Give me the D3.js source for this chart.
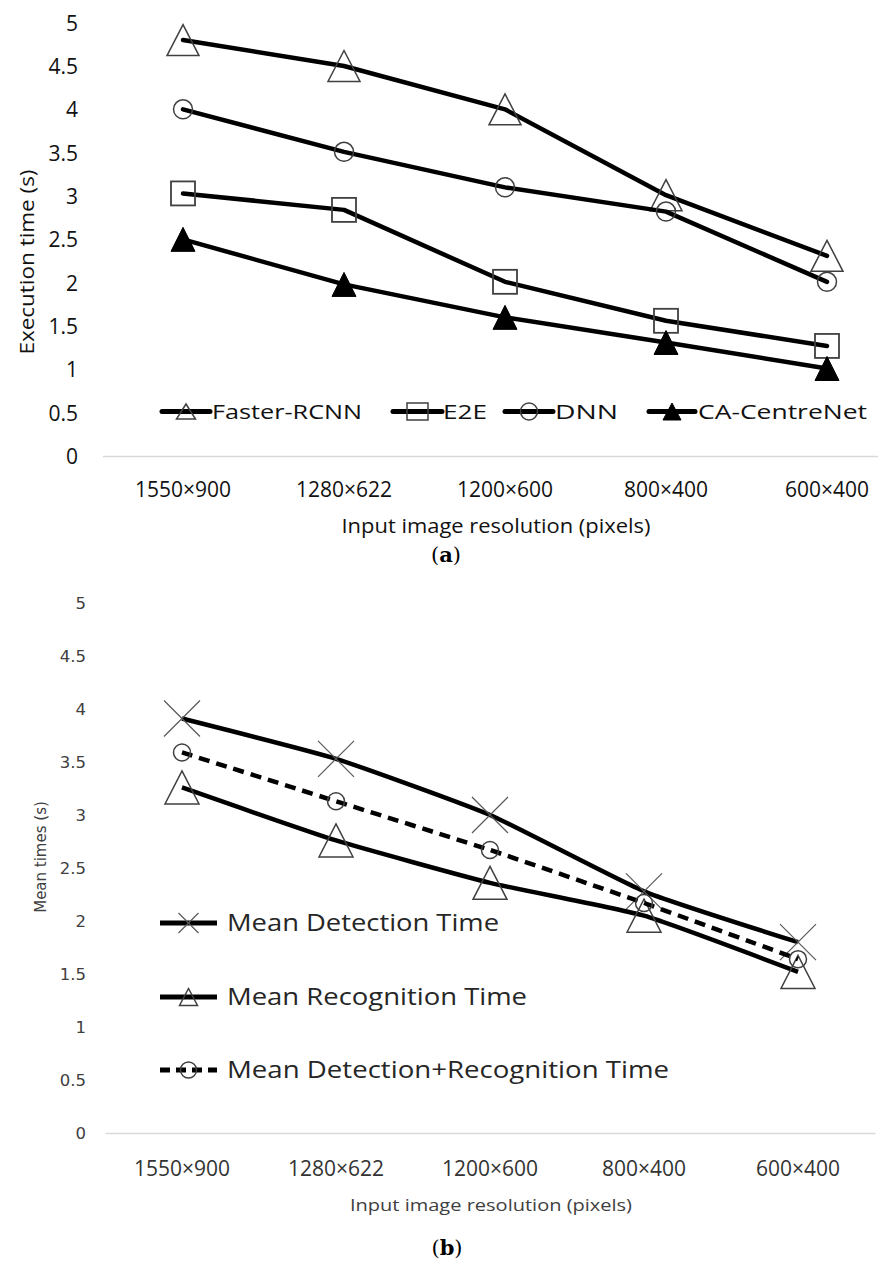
<!DOCTYPE html>
<html><head><meta charset="utf-8">
<script src="https://cdn.jsdelivr.net/npm/d3@7"></script>
<style>body{margin:0;background:#fff}</style>
</head><body>
<script>
// ---------- DATA ----------
const categories = ["1550×900","1280×622","1200×600","800×400","600×400"];
const yTickValues = [0,0.5,1,1.5,2,2.5,3,3.5,4,4.5,5];
// chart (a)
const fasterRCNN = [4.8,4.5,4.0,3.01,2.31];
const e2e = [3.03,2.84,2.01,1.56,1.27];
const dnn = [4.0,3.51,3.1,2.82,2.01];
const caCentreNet = [2.5,1.98,1.6,1.31,1.01];
// chart (b)
const meanDetection = [3.91,3.53,3.0,2.28,1.8];
const meanRecognition = [3.26,2.76,2.36,2.05,1.52];
const meanDetRec = [3.59,3.13,2.67,2.17,1.64];

const svg = d3.select("body").append("svg").attr("width",878).attr("height",1264)
  .style("background","#fff");

function fit(sel,w){ sel.attr("textLength",w).attr("lengthAdjust","spacingAndGlyphs"); return sel; }

function marker(g,type,x,y,s){
  if(type==="tri"||type==="triFill"){
    g.append("path").attr("d",`M${x},${y-s.h/2}L${x+s.w/2},${y+s.h/2}L${x-s.w/2},${y+s.h/2}Z`)
      .attr("fill",type==="triFill"?"#000":"none").attr("stroke",type==="triFill"?"#000":"#404040")
      .attr("stroke-width",s.sw).attr("stroke-linejoin","miter");
  } else if(type==="square"){
    g.append("rect").attr("x",x-s.w/2).attr("y",y-s.h/2).attr("width",s.w).attr("height",s.h)
      .attr("fill","none").attr("stroke","#404040").attr("stroke-width",s.sw);
  } else if(type==="circle"){
    g.append("circle").attr("cx",x).attr("cy",y).attr("r",s.w/2)
      .attr("fill","none").attr("stroke","#404040").attr("stroke-width",s.sw);
  } else if(type==="cross"){
    g.append("path").attr("d",`M${x-s.w/2},${y-s.h/2}L${x+s.w/2},${y+s.h/2}M${x+s.w/2},${y-s.h/2}L${x-s.w/2},${y+s.h/2}`)
      .attr("stroke","#595959").attr("stroke-width",s.sw).attr("fill","none");
  }
}

function figLabel(g,x,y,letter){
  const lab = g.append("text").attr("x",x).attr("y",y).attr("dy","0.35em").attr("text-anchor","middle")
    .style("font-family","'DejaVu Serif','Liberation Serif'").style("font-size","21px").attr("fill","#000");
  lab.append("tspan").text("(");
  lab.append("tspan").attr("font-weight","bold").text(letter);
  lab.append("tspan").text(")");
}

// ================= CHART (a) =================
{
  const x = d3.scaleBand().domain(categories).range([102.5,907.5]).paddingInner(0).paddingOuter(0);
  const y = d3.scaleLinear().domain([0,5]).range([456,22.7]);
  const cx = d => x(d)+x.bandwidth()/2;
  const g = svg.append("g");

  const xAxis = g.append("g").attr("transform","translate(0,456)")
    .call(d3.axisBottom(x).tickSize(0).tickSizeOuter(0));
  xAxis.select(".domain").attr("stroke","#d9d9d9").attr("stroke-width",1.5);
  xAxis.selectAll("text").attr("y",34).attr("dy","0.35em")
    .style("font-family","'Open Sans'").style("font-size","21px").attr("fill","#111");

  const yAxis = g.append("g").attr("transform","translate(78,0)")
    .call(d3.axisLeft(y).tickValues(yTickValues).tickSize(0).tickPadding(0).tickFormat(d3.format("")));
  yAxis.select(".domain").remove();
  yAxis.selectAll("text").attr("x",0).attr("dy","0.35em")
    .style("font-family","'Open Sans'").style("font-size","21px").attr("fill","#111");

  fit(g.append("text").attr("transform","translate(34,262) rotate(-90)").attr("text-anchor","middle")
    .style("font-family","'Open Sans'").style("font-size","20px").attr("fill","#111")
    .text("Execution time (s)"),185);
  fit(g.append("text").attr("x",496).attr("y",526).attr("dy","0.35em").attr("text-anchor","middle")
    .style("font-family","'Open Sans'").style("font-size","20px").attr("fill","#111")
    .text("Input image resolution (pixels)"),309);
  figLabel(g,446,555,"a");

  const series = [
    {name:"Faster-RCNN", values:fasterRCNN, m:"tri", ms:{w:32,h:31,sw:1.5}, lm:{w:19,h:15,sw:1.5}, lx:[162,210], tx:212, tw:150},
    {name:"E2E", values:e2e, m:"square", ms:{w:24,h:24,sw:1.8}, lm:{w:21,h:17,sw:1.5}, lx:[393,442], tx:443, tw:44},
    {name:"DNN", values:dnn, m:"circle", ms:{w:19,h:19,sw:1.5}, lm:{w:17,h:17,sw:1.5}, lx:[505,553], tx:555, tw:63},
    {name:"CA-CentreNet", values:caCentreNet, m:"triFill", ms:{w:24,h:24,sw:1}, lm:{w:18,h:17,sw:1}, lx:[649,695], tx:698, tw:169}
  ];
  const line = d3.line().x((v,i)=>cx(categories[i])).y(v=>y(v));
  series.forEach(s=>{
    g.append("path").attr("d",line(s.values)).attr("fill","none").attr("stroke","#000")
      .attr("stroke-width",4.5).attr("stroke-linejoin","round").attr("stroke-linecap","round");
    s.values.forEach((v,i)=>marker(g,s.m,cx(categories[i]),y(v),s.ms));
  });
  const ly = 411.5;
  series.forEach(s=>{
    g.append("line").attr("x1",s.lx[0]).attr("x2",s.lx[1]).attr("y1",ly).attr("y2",ly)
      .attr("stroke","#000").attr("stroke-width",5).attr("stroke-linecap","round");
    marker(g,s.m,(s.lx[0]+s.lx[1])/2,ly,s.lm);
    fit(g.append("text").attr("x",s.tx).attr("y",ly).attr("dy","0.35em")
      .style("font-family","'Open Sans'").style("font-size","20px").attr("fill","#111").text(s.name),s.tw);
  });
}

// ================= CHART (b) =================
{
  const x = d3.scaleBand().domain(categories).range([105,875]).paddingInner(0).paddingOuter(0);
  const y = d3.scaleLinear().domain([0,5]).range([1133,603]);
  const cx = d => x(d)+x.bandwidth()/2;
  const g = svg.append("g");

  const xAxis = g.append("g").attr("transform","translate(0,1133)")
    .call(d3.axisBottom(x).tickSize(0).tickSizeOuter(0));
  xAxis.select(".domain").attr("stroke","#d9d9d9").attr("stroke-width",1.5);
  xAxis.selectAll("text").attr("y",36).attr("dy","0.35em")
    .style("font-family","'Open Sans'").style("font-size","21px").attr("fill","#333");

  const yAxis = g.append("g").attr("transform","translate(86,0)")
    .call(d3.axisLeft(y).tickValues(yTickValues).tickSize(0).tickPadding(0).tickFormat(d3.format("")));
  yAxis.select(".domain").remove();
  yAxis.selectAll("text").attr("x",0).attr("dy","0.35em")
    .style("font-family","'DejaVu Sans'").style("font-size","16.5px").attr("fill","#404040");

  g.append("text").attr("transform","translate(41,857) rotate(-90)").attr("text-anchor","middle")
    .attr("dy","0.35em").style("font-family","'DejaVu Sans'").style("font-size","15px").attr("fill","#404040")
    .text("Mean times (s)");
  fit(g.append("text").attr("x",491).attr("y",1205).attr("dy","0.35em").attr("text-anchor","middle")
    .style("font-family","'Open Sans'").style("font-size","16px").attr("fill","#404040")
    .text("Input image resolution (pixels)"),282);
  figLabel(g,447,1248,"b");

  const series = [
    {name:"Mean Detection Time", values:meanDetection, m:"cross", dash:null, ms:{w:36,h:36,sw:1.2}, lm:{w:20,h:20,sw:1.2}, ly:923, tw:272},
    {name:"Mean Recognition Time", values:meanRecognition, m:"tri", dash:null, ms:{w:34,h:33,sw:1.5}, lm:{w:18,h:17,sw:1.5}, ly:997, tw:300},
    {name:"Mean Detection+Recognition Time", values:meanDetRec, m:"circle", dash:"11,7", ms:{w:17,h:17,sw:1.5}, lm:{w:16,h:16,sw:1.5}, ly:1070, tw:442}
  ];
  const line = d3.line().curve(d3.curveCardinal.tension(0.55)).x((v,i)=>cx(categories[i])).y(v=>y(v));
  series.forEach(s=>{
    g.append("path").attr("d",line(s.values)).attr("fill","none").attr("stroke","#000")
      .attr("stroke-width",4.5).attr("stroke-dasharray",s.dash).attr("stroke-linejoin","round");
    s.values.forEach((v,i)=>marker(g,s.m,cx(categories[i]),y(v),s.ms));
  });
  series.forEach(s=>{
    g.append("line").attr("x1",160).attr("x2",217).attr("y1",s.ly).attr("y2",s.ly)
      .attr("stroke","#000").attr("stroke-width",5).attr("stroke-dasharray",s.dash?"10,6":null);
    marker(g,s.m,188.5,s.ly,s.lm);
    fit(g.append("text").attr("x",227).attr("y",s.ly).attr("dy","0.35em")
      .style("font-family","'Open Sans'").style("font-size","24px").attr("fill","#262626").text(s.name),s.tw);
  });
}
</script>
</body></html>
